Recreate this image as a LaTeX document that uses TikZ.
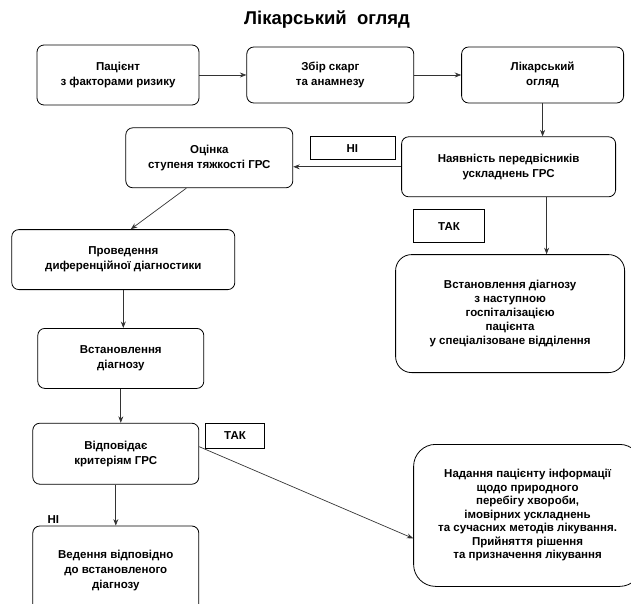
\documentclass[tikz,border=0pt]{standalone}
\usepackage{fontspec}
\setmainfont{Liberation Sans}
\usetikzlibrary{positioning,arrows.meta}

\begin{document}
\begin{tikzpicture}[
			x=1pt, y=-1pt,
			>={Stealth[length=6.5pt,width=5pt]},
			box/.style={
				draw,
				rounded corners=7pt,
				line width=0.8pt,
				inner sep=0pt,
				align=center,
				font=\fontsize{11.5}{15}\selectfont\bfseries
			},
			bigbox/.style={box, rounded corners=16pt},
			tag/.style={
				draw,
				line width=0.7pt,
				inner sep=0pt,
				font=\fontsize{11.5}{13}\selectfont\bfseries
			},
			link/.style={->, line width=0.7pt, draw=black!80}
			]
			
			\useasboundingbox (0,0) rectangle (631,604);
			\clip (0,0) rectangle (631,604);
			
			%%%%%%%%%%%%%%%%%%%%%%%%%%%%%%%%%%%%%%%%%%%%%%%%%%%%%%%%%%%%
			% Title
			%%%%%%%%%%%%%%%%%%%%%%%%%%%%%%%%%%%%%%%%%%%%%%%%%%%%%%%%%%%%
			
			\node (title) at (327,20) {\fontsize{18.5}{22}\selectfont\bfseries Лікарський\ \ огляд};
			
			%%%%%%%%%%%%%%%%%%%%%%%%%%%%%%%%%%%%%%%%%%%%%%%%%%%%%%%%%%%%
			% Top Row
			%%%%%%%%%%%%%%%%%%%%%%%%%%%%%%%%%%%%%%%%%%%%%%%%%%%%%%%%%%%%
			
			\node (pat) [box, minimum width=162pt, minimum height=60pt] at (118,75)
			{Пацієнт\\з факторами ризику};
			
			\node (zbir) [box, minimum width=167pt, minimum height=56pt, right=47pt of pat]
			{Збір скарг\\та анамнезу};
			
			\node (lik) [box, minimum width=162pt, minimum height=56pt, right=47pt of zbir]
			{Лікарський\\огляд};
			
			%%%%%%%%%%%%%%%%%%%%%%%%%%%%%%%%%%%%%%%%%%%%%%%%%%%%%%%%%%%%
			% Right Branch
			%%%%%%%%%%%%%%%%%%%%%%%%%%%%%%%%%%%%%%%%%%%%%%%%%%%%%%%%%%%%
			
			\node (nayav) [box, minimum width=214pt, minimum height=60pt, below=33pt of lik, xshift=-34pt]
			{Наявність передвісників\\ускладнень ГРС};
			
			\node (ni1) [tag, minimum width=85pt, minimum height=23pt, left=6pt of nayav.north west, anchor=north east]
			{НІ};
			
			\node (tak1) [tag, minimum width=71pt, minimum height=33pt, below right=12pt and 12pt of nayav.south west]
			{ТАК};
			
			\node (hosp) [bigbox, minimum width=229pt, minimum height=118pt, below=57pt of nayav, xshift=1.5pt,
			font=\fontsize{11.5}{14}\selectfont\bfseries]
			{Встановлення діагнозу\\з наступною\\госпіталізацією\\пацієнта\\у спеціалізоване відділення};
			
			\node (nad) [bigbox, rounded corners=22pt, minimum width=228pt, minimum height=142pt, below=71pt of hosp, xshift=17.5pt,
			font=\fontsize{11.5}{13.5}\selectfont\bfseries]
			{Надання пацієнту інформації\\щодо природного\\перебігу хвороби,\\імовірних ускладнень\\та сучасних методів лікування.\\Прийняття рішення\\та призначення лікування};
			
			%%%%%%%%%%%%%%%%%%%%%%%%%%%%%%%%%%%%%%%%%%%%%%%%%%%%%%%%%%%%
			% Left Branch
			%%%%%%%%%%%%%%%%%%%%%%%%%%%%%%%%%%%%%%%%%%%%%%%%%%%%%%%%%%%%
			
			\node (otsin) [box, minimum width=167pt, minimum height=60pt, left=108pt of nayav, yshift=9pt]
			{Оцінка\\ступеня тяжкості ГРС};
			
			\node (prov) [box, minimum width=223pt, minimum height=60pt, below=41pt of otsin, xshift=-86pt]
			{Проведення\\диференційної діагностики};
			
			\node (vstan) [box, minimum width=166pt, minimum height=60pt, below=38pt of prov, xshift=-2.5pt]
			{Встановлення\\діагнозу};
			
			\node (vidp) [box, minimum width=166pt, minimum height=61pt, below=34pt of vstan, xshift=-5pt]
			{Відповідає\\критеріям ГРС};
			
			\node (tak2) [tag, minimum width=59pt, minimum height=25pt, right=6pt of vidp.north east, anchor=north west]
			{ТАК};
			
			\node (ved) [box, minimum width=166pt, minimum height=90pt, below=41pt of vidp]
			{Ведення відповідно\\до встановленого\\діагнозу};
			
			\node (ni2) [inner sep=0pt, font=\fontsize{11.5}{13}\selectfont\bfseries, above right=2pt and 15pt of ved.north west]
			{НІ};
			
			%%%%%%%%%%%%%%%%%%%%%%%%%%%%%%%%%%%%%%%%%%%%%%%%%%%%%%%%%%%%
			% Connections
			%%%%%%%%%%%%%%%%%%%%%%%%%%%%%%%%%%%%%%%%%%%%%%%%%%%%%%%%%%%%
			
			% Top row
			
			\draw[link] (pat) -- (zbir);
			
			\draw[link] (zbir) -- (lik);
			
			\draw[link] (lik) -- (lik |- nayav.north);
			
			% Right branch
			
			\draw[link] (nayav.west) -- (nayav.west -| otsin.east);
			
			\draw[link] ([xshift=38pt]nayav.south) -- ([xshift=36.5pt]hosp.north);
			
			% Left branch
			
			\draw[link] ([xshift=-23pt]otsin.south) -- ([xshift=7.5pt]prov.north);
			
			\draw[link] (prov) -- (prov |- vstan.north);
			
			\draw[link] (vstan) -- (vstan |- vidp.north);
			
			\draw[link] (vidp) -- (ved);
			
			\draw[link] ([yshift=7pt]vidp.east) -- ([yshift=-23pt]nad.west);
			
			%%%%%%%%%%%%%%%%%%%%%%%%%%%%%%%%%%%%%%%%%%%%%%%%%%%%%%%%%%%%
			
		\end{tikzpicture}
\end{document}
